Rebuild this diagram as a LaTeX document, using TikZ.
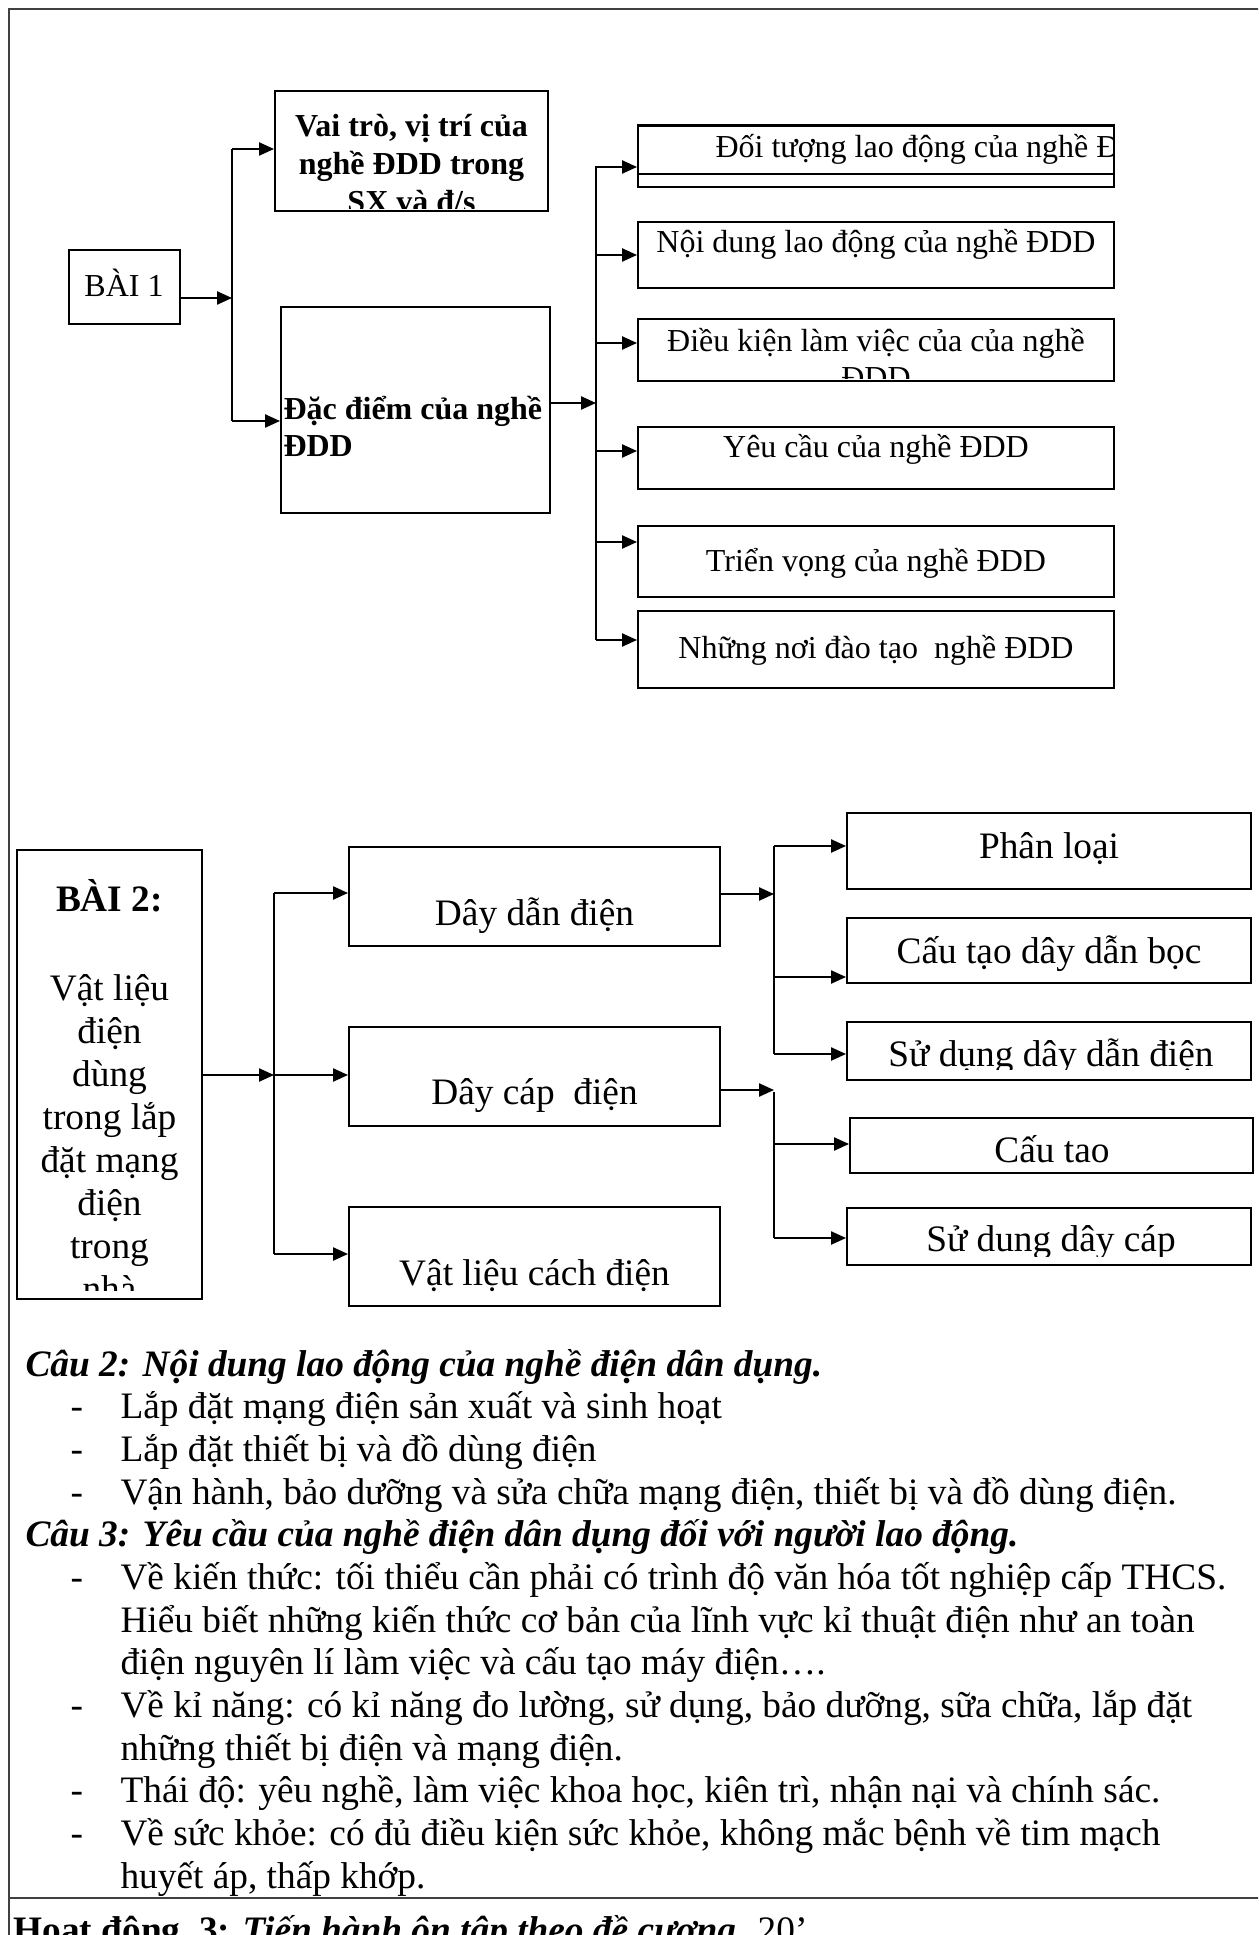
\documentclass[tikz,border=0pt]{standalone}
\usepackage{fontspec}
\setmainfont{Liberation Serif}
\usetikzlibrary{arrows.meta,fit}
\begin{document}
\begin{tikzpicture}[x=0.375pt,y=-0.375pt,
  box/.style={draw, line width=0.75pt, inner sep=0pt},
  arr/.style={line width=0.75pt, -{Triangle[length=5.6pt,width=4.9pt]}},
  trunk/.style={line width=1.1pt},
  frame/.style={line width=0.75pt, draw=black!75},
  lbl/.style={inner sep=0pt, anchor=base},
  lblw/.style={inner sep=0pt, anchor=base west},
  f12/.style={font=\fontsize{12}{13.8}\selectfont},
  f12b/.style={font=\fontsize{12}{13.8}\selectfont\bfseries},
  f14/.style={font=\fontsize{14}{16}\selectfont},
  f14b/.style={font=\fontsize{14}{16}\selectfont\bfseries},
  f14bi/.style={font=\fontsize{14}{16}\selectfont\bfseries\itshape}]
\clip (0,0) rectangle (1258,1935);
\fill[white] (0,0) rectangle (1258,1935);
% frame
\draw[frame] (9,1940) -- (9,9) -- (1262,9);
\draw[frame] (9,1898) -- (1262,1898);

% ---------------- BAI 1 ----------------
\node[box, fit={(69,250) (180,324)}] (bai1) {};
\node[lbl, f12] (bai1t) at (124,297) {BÀI 1};

\node[box, fit={(275,91) (548,211)}] (vaitro) {};
\begin{scope}
  \clip (277,93) rectangle (546,209);
  \node[lbl, f12b] (vt1) at (411.5,137) {Vai trò, vị trí của};
  \node[lbl, f12b] (vt2) at (411.5,175) {nghề ĐDD trong};
  \node[lbl, f12b] (vt3) at (411.5,213) {SX và đ/s};
\end{scope}

\node[box, fit={(281,307) (550,513)}] (dacdiem) {};
\node[lblw, f12b] (dd1) at (283,420) {Đặc điểm của nghề};
\node[lblw, f12b] (dd2) at (283,457) {ĐDD};

% trunk 1
\coordinate (ta1) at (232,149);
\coordinate (tain) at (232,298);
\coordinate (ta2) at (232,421);
\draw[trunk] (ta1) -- (ta2);
\draw[arr] (bai1.east |- tain) -- (tain);
\draw[arr] (ta1) -- (vaitro.west |- ta1);
\draw[arr] (ta2) -- (dacdiem.west |- ta2);

% right boxes
\node[box, fit={(638,126) (1114,187)}] (r1) {};
\draw[line width=0.75pt] (r1.west |- 0,174) -- (r1.east |- 0,174);
\draw[line width=1.1pt] (r1.north west) -- (r1.north east);
\begin{scope}
  \clip (640,128) rectangle (1113,172);
  \node[lblw, f12] (r1t) at (715,158) {Đối tượng lao động của nghề Đ};
\end{scope}

\node[box, fit={(638,222) (1114,288)}] (r2) {};
\node[lbl, f12] (r2t) at (876,253) {Nội dung lao động của nghề ĐDD};

\node[box, fit={(638,319) (1114,381)}] (r3) {};
\begin{scope}
  \clip (640,321) rectangle (1112,379);
  \node[lbl, f12] (r3t) at (876,352) {Điều kiện làm việc của của nghề};
  \node[lbl, f12] (r3u) at (876,389) {ĐDD};
\end{scope}

\node[box, fit={(638,427) (1114,489)}] (r4) {};
\node[lbl, f12] (r4t) at (876,458) {Yêu cầu của nghề ĐDD};

\node[box, fit={(638,526) (1114,597)}] (r5) {};
\node[lbl, f12] (r5t) at (876,572) {Triển vọng của nghề ĐDD};

\node[box, fit={(638,611) (1114,688)}] (r6) {};
\node[lbl, f12] (r6t) at (876,658) {Những nơi đào tạo\ \ nghề ĐDD};

% trunk 2
\coordinate (tb0) at (596,166);
\coordinate (tbin) at (596,403);
\coordinate (tb1) at (596,167);
\coordinate (tb2) at (596,255);
\coordinate (tb3) at (596,343);
\coordinate (tb4) at (596,451);
\coordinate (tb5) at (596,542);
\coordinate (tb6) at (596,640);
\draw[trunk] (tb0) -- (tb6);
\draw[arr] (dacdiem.east |- tbin) -- (tbin);
\draw[arr] (tb1) -- (r1.west |- tb1);
\draw[arr] (tb2) -- (r2.west |- tb2);
\draw[arr] (tb3) -- (r3.west |- tb3);
\draw[arr] (tb4) -- (r4.west |- tb4);
\draw[arr] (tb5) -- (r5.west |- tb5);
\draw[arr] (tb6) -- (r6.west |- tb6);

% ---------------- BAI 2 ----------------
\node[box, fit={(17,850) (202,1299)}] (bai2) {};
\begin{scope}
  \clip (19,852) rectangle (200,1290);
  \node[lbl, f14b] (b2t) at (109.5,911) {BÀI 2:};
  \node[lbl, f14] (b2a) at (109.5,1000) {Vật liệu};
  \node[lbl, f14] (b2b) at (109.5,1043) {điện};
  \node[lbl, f14] (b2c) at (109.5,1086) {dùng};
  \node[lbl, f14] (b2d) at (109.5,1129) {trong lắp};
  \node[lbl, f14] (b2e) at (109.5,1172) {đặt mạng};
  \node[lbl, f14] (b2f) at (109.5,1215) {điện};
  \node[lbl, f14] (b2g) at (109.5,1258) {trong};
  \node[lbl, f14] (b2h) at (109.5,1301) {nhà};
\end{scope}

\node[box, fit={(349,847) (720,946)}] (dd) {};
\node[lbl, f14] (ddt) at (534.5,925) {Dây dẫn điện};
\node[box, fit={(349,1027) (720,1126)}] (dc) {};
\node[lbl, f14] (dct) at (534.5,1104) {Dây cáp\ \ điện};
\node[box, fit={(349,1207) (720,1306)}] (vl) {};
\node[lbl, f14] (vlt) at (534.5,1285) {Vật liệu cách điện};

\coordinate (tc1) at (274,893);
\coordinate (tcin) at (274,1075);
\coordinate (tc3) at (274,1254);
\draw[trunk] (tc1) -- (tc3);
\draw[arr] (bai2.east |- tcin) -- (tcin);
\draw[arr] (tc1) -- (dd.west |- tc1);
\draw[arr] (tcin) -- (dc.west |- tcin);
\draw[arr] (tc3) -- (vl.west |- tc3);

\node[box, fit={(847,813) (1251,889)}] (pl) {};
\node[lbl, f14] (plt) at (1049,858) {Phân loại};
\node[box, fit={(847,918) (1251,983)}] (ct) {};
\node[lbl, f14] (ctt) at (1049,963) {Cấu tạo dây dẫn bọc};
\node[box, fit={(847,1022) (1251,1080)}] (sd) {};
\begin{scope}
  \clip (849,1024) rectangle (1249,1069);
  \node[lbl, f14] (sdt) at (1051,1066) {Sử dụng dây dẫn điện};
\end{scope}
\node[box, fit={(850,1118) (1253,1173)}] (ct2) {};
\node[lbl, f14] (ct2t) at (1052,1162) {Cấu tao};
\node[box, fit={(847,1208) (1251,1265)}] (sdc) {};
\begin{scope}
  \clip (849,1210) rectangle (1249,1256);
  \node[lbl, f14] (sdct) at (1051,1251) {Sử dung dây cáp};
\end{scope}

\coordinate (td1) at (774,846);
\coordinate (tdin) at (774,894);
\coordinate (td2) at (774,977);
\coordinate (td3) at (774,1054);
\draw[trunk] (td1) -- (td3);
\draw[arr] (dd.east |- tdin) -- (tdin);
\draw[arr] (td1) -- (pl.west |- td1);
\draw[arr] (td2) -- (ct.west |- td2);
\draw[arr] (td3) -- (sd.west |- td3);

\coordinate (tein) at (774,1090);
\coordinate (te0) at (774,1092);
\coordinate (te1) at (774,1144);
\coordinate (te2) at (774,1238);
\draw[trunk] (te0) -- (te2);
\draw[arr] (dc.east |- tein) -- (tein);
\draw[arr] (te1) -- (ct2.west |- te1);
\draw[arr] (te2) -- (sdc.west |- te2);

% ---------------- text ----------------
\node[lblw, f14bi] (q2) at (25,1376) {Câu 2: Nội dung lao động của nghề điện dân dụng.};
\node[lblw, f14] (q2d1) at (70,1418.7) {-};
\node[lblw, f14] (q2a) at (120,1418.7) {Lắp đặt mạng điện sản xuất và sinh hoạt};
\node[lblw, f14] (q2d2) at (70,1461.3) {-};
\node[lblw, f14] (q2b) at (120,1461.3) {Lắp đặt thiết bị và đồ dùng điện};
\node[lblw, f14] (q2d3) at (70,1504) {-};
\node[lblw, f14] (q2c) at (120,1504) {Vận hành, bảo dưỡng và sửa chữa mạng điện, thiết bị và đồ dùng điện.};
\node[lblw, f14bi] (q3) at (25,1546.7) {Câu 3: Yêu cầu của nghề điện dân dụng đối với người lao động.};
\node[lblw, f14] (q3d1) at (70,1589.3) {-};
\node[lblw, f14] (q3a) at (120,1589.3) {Về kiến thức: tối thiểu cần phải có trình độ văn hóa tốt nghiệp cấp THCS.};
\node[lblw, f14] (q3a2) at (120,1632) {Hiểu biết những kiến thức cơ bản của lĩnh vực kỉ thuật điện như an toàn};
\node[lblw, f14] (q3a3) at (120,1674.7) {điện nguyên lí làm việc và cấu tạo máy điện….};
\node[lblw, f14] (q3d2) at (70,1717.3) {-};
\node[lblw, f14] (q3b) at (120,1717.3) {Về kỉ năng: có kỉ năng đo lường, sử dụng, bảo dưỡng, sữa chữa, lắp đặt};
\node[lblw, f14] (q3b2) at (120,1760) {những thiết bị điện và mạng điện.};
\node[lblw, f14] (q3d3) at (70,1802.7) {-};
\node[lblw, f14] (q3c) at (120,1802.7) {Thái độ: yêu nghề, làm việc khoa học, kiên trì, nhận nại và chính sác.};
\node[lblw, f14] (q3d4) at (70,1845.3) {-};
\node[lblw, f14] (q3e) at (120,1845.3) {Về sức khỏe: có đủ điều kiện sức khỏe, không mắc bệnh về tim mạch};
\node[lblw, f14] (q3e2) at (120,1888) {huyết áp, thấp khớp.};
\node[lblw, f14] (hd) at (13,1942) {\textbf{Hoat động\ \ 3:} \textbf{\itshape Tiến hành ôn tập theo đề cương.} 20’};
\end{tikzpicture}
\end{document}
